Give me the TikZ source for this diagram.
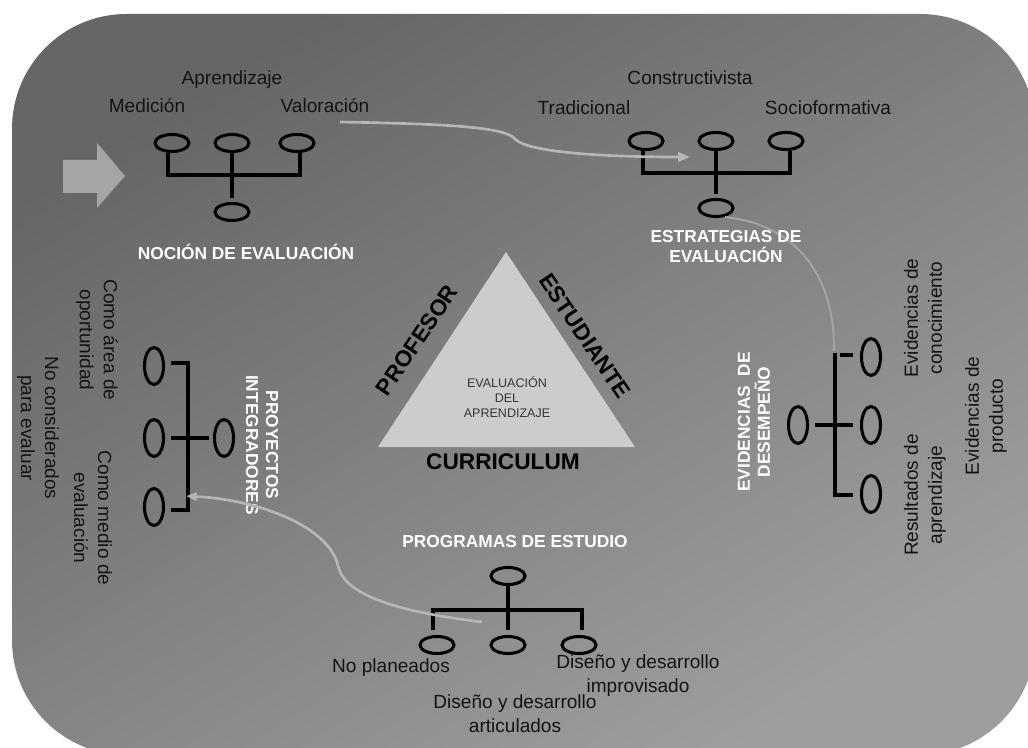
\documentclass[tikz,border=0pt]{standalone}
\usepackage{fontspec}
\setmainfont{Liberation Sans}
\usetikzlibrary{shapes.geometric,arrows.meta,calc}

\definecolor{bgA}{RGB}{102,102,102}
\definecolor{bgB}{RGB}{130,130,130}
\definecolor{bgC}{RGB}{158,158,158}
\definecolor{arrowgray}{RGB}{165,165,165}
\definecolor{trifill}{RGB}{204,204,204}
\definecolor{linkgray}{RGB}{182,182,182}
\definecolor{faintgray}{RGB}{165,165,165}
\definecolor{inktext}{RGB}{20,20,20}
\definecolor{tritext}{RGB}{55,55,55}

% backdrop gradient: light at the bottom, dark at the top
\pgfdeclareverticalshading{backdrop}{100bp}{color(0bp)=(bgC); color(25bp)=(bgC);
  color(50bp)=(bgB); color(75bp)=(bgA); color(100bp)=(bgA)}

\begin{document}
\begin{tikzpicture}[x=0.75pt,y=-0.75pt,
  hov/.style={draw=black, line width=2.3pt, ellipse, inner sep=0pt,
              minimum width=25.5pt, minimum height=12.75pt},
  vov/.style={draw=black, line width=2.3pt, ellipse, inner sep=0pt,
              minimum width=14.25pt, minimum height=27.75pt},
  tree/.style={draw=black, line width=2.4pt},
  lbl/.style={font=\fontsize{14.3}{18}\selectfont, text=inktext,
              align=center, inner sep=0pt},
  ttl/.style={font=\bfseries\fontsize{13}{15}\selectfont, text=white,
              align=center, inner sep=0pt},
  side/.style={font=\bfseries\fontsize{17}{18}\selectfont, text=black,
               inner sep=0pt},
  link/.style={draw=linkgray, line width=2pt},
  faintlink/.style={draw=faintgray, line width=1.4pt}]

% page and rounded backdrop
\useasboundingbox (0,0) rectangle (1028,748);
\fill[white] (0,0) rectangle (1028,748);
\clip (0,0) rectangle (1028,748);
\begin{scope}[yscale=-1]
  \shade[shading=backdrop, shading angle=32, rounded corners=86pt]
    (12,-14) rectangle (1035,-755);
\end{scope}

% entry arrow on the left
\fill[arrowgray] (63,160) -- (97,160) -- (97,143) -- (125,176)
  -- (97,208) -- (97,193) -- (63,193) -- cycle;

% central triangle
\fill[trifill] (378,447) -- (635,447) -- (506,252) -- cycle;
\node[font=\fontsize{9.4}{11}\selectfont, text=tritext, align=center, inner sep=0pt]
  (tri) at (507,397) {EVALUACIÓN\\DEL\\APRENDIZAJE};
\node[side, rotate=56] (prof) at (417,340) {PROFESOR};
\node[side, rotate=-56] (estu) at (585,336) {ESTUDIANTE};
\node[side] (curr) at (503,462) {CURRICULUM};

% ---- Noción de evaluación
\node[hov] (n1) at (172,143) {};
\node[hov] (n2) at (232,143) {};
\node[hov] (n3) at (297,143) {};
\node[hov] (n0) at (232,212) {};
\draw[tree] ($(n1.south)+(-4,0)$) |- ($(n3.south)+(3,22)$) -- ($(n3.south)+(3,0)$);
\draw[tree] (n2.south) -- ($(n0.north)+(0,-4)$);
\node[lbl] (apr) at (232,80) {Aprendizaje};
\node[lbl] (med) at (147,106) {Medición};
\node[lbl] (val) at (325,106) {Valoración};
\node[ttl] (noc) at (246,252) {NOCIÓN DE EVALUACIÓN};

% ---- Estrategias de evaluación
\node[hov] (e1) at (646,141) {};
\node[hov] (e2) at (716,141) {};
\node[hov] (e3) at (786,141) {};
\node[hov] (e0) at (716,208) {};
\draw[tree] ($(e1.south)+(-3,0)$) |- ($(e3.south)+(4,22)$) -- ($(e3.south)+(4,0)$);
\draw[tree] (e2.south) -- ($(e0.north)+(0,-4)$);
\node[lbl] (con) at (690,78) {Constructivista};
\node[lbl] (tra) at (584,108) {Tradicional};
\node[lbl] (soc) at (828,108) {Socioformativa};

% ---- Proyectos integradores
\node[vov] (p1) at (154,366) {};
\node[vov] (p2) at (154,438) {};
\node[vov] (p3) at (154,507) {};
\node[vov] (p0) at (224,438) {};
\draw[tree] ($(p1.east)+(6,-3)$) -| ($(p3.east)+(23,3)$) -- ($(p3.east)+(6,3)$);
\draw[tree] ($(p2.east)+(6,0)$) -- ($(p0.west)+(-4,0)$);
\node[lbl, rotate=-90] (opo) at (97,340) {Como área de\\oportunidad};
\node[lbl, rotate=-90] (noc2) at (38,428) {No considerados\\para evaluar};
\node[lbl, rotate=-90] (med2) at (93,518) {Como medio de\\evaluación};
\node[ttl, rotate=-90] (pro) at (262,445) {PROYECTOS\\INTEGRADORES};

% ---- Evidencias de desempeño
\node[vov] (v1) at (871,357) {};
\node[vov] (v2) at (871,425) {};
\node[vov] (v3) at (871,494) {};
\node[vov] (v0) at (798,425) {};
\draw[tree] ($(v1.west)+(-7,-2)$) -- ($(v1.west)+(-20,-2)$);
\draw[tree] ($(v1.west)+(-25,-4)$) |- ($(v3.west)+(-7,1)$);
\draw[tree] ($(v0.east)+(6,0)$) -- ($(v2.west)+(-7,0)$);
\node[lbl, rotate=90] (evc) at (923,318) {Evidencias de\\conocimiento};
\node[lbl, rotate=90] (evp) at (986,416) {Evidencias de\\producto};
\node[lbl, rotate=90] (res) at (925,495) {Resultados de\\aprendizaje};
\node[ttl, rotate=90] (evd) at (754,422) {EVIDENCIAS~~DE\\DESEMPEÑO};

% ---- Programas de estudio
\node[hov] (g0) at (508,576) {};
\node[hov] (g1) at (437,645) {};
\node[hov] (g2) at (508,645) {};
\node[hov] (g3) at (579,645) {};
\draw[tree] (g0.south) -- ($(g2.north)+(0,-5)$);
\draw[tree] ($(g1.north)+(-4,-5)$) |- ($(g3.north)+(3,-25)$) -- ($(g3.north)+(3,-5)$);
\node[ttl] (prg) at (515,542) {PROGRAMAS DE ESTUDIO};
\node[lbl] (npl) at (391,668) {No planeados};
\node[lbl] (imp) at (638,676) {Diseño y desarrollo\\improvisado};
\node[lbl] (art) at (515,714) {Diseño y desarrollo\\articulados};

% ---- linking curves
\coordinate (c1a) at (340,122);
\coordinate (c1b) at (690,157);
\draw[link, -{Triangle[length=9pt,width=7pt]}] (c1a)
  .. controls (450,124) and (505,127) .. (515,139)
  .. controls (527,152) and (600,157) .. (c1b);

\coordinate (c2a) at (725,217);
\coordinate (c2b) at (834,351);
\draw[faintlink] (c2a) .. controls (800,225) and (835,280) .. (c2b);

\coordinate (c3a) at (482,622);
\coordinate (c3b) at (186,496);
\draw[link, -{Triangle[length=8pt,width=6pt]}] (c3a)
  .. controls (400,612) and (345,596) .. (338,566)
  .. controls (330,528) and (262,500) .. (c3b);

% title drawn over the faint curve
\node[ttl] (est) at (726,247) {ESTRATEGIAS DE\\EVALUACIÓN};
\end{tikzpicture}
\end{document}
